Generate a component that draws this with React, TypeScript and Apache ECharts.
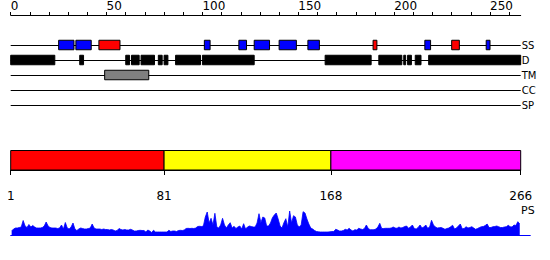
import React, { useEffect, useRef } from "react";
import * as echarts from "echarts";

const SEQ_LENGTH = 266;
const PS_AXIS_MAX = 271;
const trackNames = ["SS", "D", "TM", "CC", "SP"];
const topTickValues = [0, 10, 20, 30, 40, 50, 60, 70, 80, 90, 100, 110, 120, 130, 140, 150, 160, 170, 180, 190, 200, 210, 220, 230, 240, 250, 260];
const topLabelValues = [0, 50, 100, 150, 200, 250];

// secondary structure segments [startResidue, endResidue]
const ssBlueSegments = [[26, 33], [35, 42], [102, 104], [120, 123], [128, 135], [141, 149], [156, 161], [217, 219], [249, 250]];
const ssRedSegments = [[47, 57], [190, 191], [231, 234]];
const disorderSegments = [[1, 23], [37, 38], [61, 62], [64, 67], [69, 75], [78, 79], [81, 82], [87, 99], [101, 127], [165, 188], [193, 204], [206, 206], [208, 209], [212, 214], [219, 266]];
const tmSegments = [[50, 72]];

const domainStarts = [1, 81, 168];
const domainEnds = [80, 167, 266];

const psScores = [
  4, 6, 7, 7, 7.5, 8, 14.5, 9, 7.5, 10.5,
  8, 9.5, 8, 7, 7, 7, 7.5, 9, 13, 9,
  7.5, 7, 7, 7, 6.5, 7, 10, 6, 12.5, 7,
  6, 8, 12, 6, 4.5, 6, 7, 6.5, 6, 6,
  6.5, 7, 11, 7, 6, 6, 6, 5.5, 6, 5.5,
  5.5, 5, 5.5, 5, 4, 4.5, 6.5, 5.5, 5, 5.5,
  5, 5, 5.7, 5, 4, 4, 4.5, 4.7, 4.5, 4.5,
  3, 5, 4, 2.5, 4.7, 3, 3, 3, 3, 3,
  3, 3, 4.7, 3.5, 4, 4, 3.5, 4.5, 4.7, 4.5,
  5, 6.5, 6.7, 6.5, 6.7, 6.5, 7, 8.5, 8.7, 8.5,
  9, 18, 23, 12, 16.7, 10, 21.7, 8, 7, 10,
  16.7, 10, 7, 10, 12.3, 7, 8.7, 6.5, 8, 9,
  6, 11.3, 6, 8, 9, 8.5, 8, 8, 12, 21.3,
  12.3, 18, 17, 9, 9, 12, 17.3, 20, 22, 16,
  9, 7, 12.3, 16.3, 8, 24, 12, 19.3, 18, 10,
  8, 10, 23.3, 22, 16, 11, 7, 6, 4.5, 3.5,
  3.2, 3, 3, 3, 3, 3, 3.2, 3.5, 3.5, 5.7,
  5, 4, 4, 4.5, 5.7, 5, 6.7, 5, 4, 5.3,
  5, 6.7, 6, 5.5, 6.5, 10, 6.5, 5.3, 5.3, 5.3,
  6, 8, 11.7, 6.5, 6.5, 6.7, 6.7, 6.7, 7, 8,
  7, 6.7, 8, 7, 7.5, 8.5, 9, 6.7, 8, 10,
  6.5, 6, 7.5, 10, 7, 8, 10, 6.7, 8, 14.7,
  10, 8, 7, 7.3, 7.5, 6.7, 5.7, 6.5, 7, 8.3,
  9.7, 6, 7, 9, 11, 6.3, 6.5, 8.3, 7, 7.5,
  8.3, 7, 5.7, 6.5, 7.5, 8.3, 8.5, 9.5, 11, 7.5,
  7.5, 8.3, 8.5, 9, 8.3, 7.5, 7.5, 8, 8.3, 9.7,
  8.3, 8, 10, 9.5, 13.3, 11,
];

const FONT = "DejaVu Sans";
const domainColors = ["#ff0000", "#ffff00", "#ff00ff"];

function segmentSeries(name: string, segments: number[][], track: string, fill: string) {
  const t = trackNames.indexOf(track);
  return {
    type: "custom",
    name,
    xAxisIndex: 0,
    yAxisIndex: 0,
    encode: { x: [0, 1], y: 2 },
    data: segments.map(([s, e]) => [s, e, t]),
    renderItem: (params: any, api: any) => {
      const s = api.value(0);
      const e = api.value(1);
      const tr = api.value(2);
      const p0 = api.coord([s - 1, tr]);
      const p1 = api.coord([e, tr]);
      const h = 9.5;
      return {
        type: "rect",
        shape: { x: p0[0], y: p0[1] - h / 2, width: p1[0] - p0[0], height: h },
        style: { fill, stroke: "#000", lineWidth: 1 },
      };
    },
    z: 5,
  };
}

export default function App() {
  const ref = useRef<HTMLDivElement>(null);
  useEffect(() => {
    if (!ref.current) return;
    const chart = echarts.init(ref.current, undefined, { renderer: "svg" });
    const lastEnd = domainEnds[domainEnds.length - 1];
    const bottomTicks = [...domainStarts.map((s) => s - 1), lastEnd];
    const option: any = {
      animation: false,
      textStyle: { fontFamily: FONT },
      grid: [
        { left: 10.7, top: 45, width: 510, height: 60 },
        { left: 10.7, top: 150, width: 510, height: 20 },
        { left: 10.7, top: 210, width: (510 * PS_AXIS_MAX) / SEQ_LENGTH, height: 25 },
      ],
      xAxis: [
        {
          gridIndex: 0,
          type: "value",
          min: 0,
          max: SEQ_LENGTH,
          position: "top",
          offset: 30,
          axisLine: { show: true, lineStyle: { color: "#000", width: 1 } },
          axisTick: { show: true, customValues: topTickValues, length: 3, lineStyle: { color: "#000" } },
          axisLabel: {
            customValues: topLabelValues,
            align: "left",
            margin: 3,
            fontSize: 12,
            color: "#000",
            fontFamily: FONT,
          },
          splitLine: { show: false },
        },
        {
          gridIndex: 1,
          type: "value",
          min: 0,
          max: SEQ_LENGTH,
          position: "bottom",
          offset: 10,
          axisLine: { show: true, lineStyle: { color: "#000", width: 1 } },
          axisTick: { show: true, customValues: bottomTicks, length: 5, lineStyle: { color: "#000" } },
          axisLabel: {
            customValues: bottomTicks,
            margin: 10,
            fontSize: 12,
            color: "#000",
            fontFamily: FONT,
            formatter: (v: number) => (v === lastEnd ? String(lastEnd) : String(Math.round(v) + 1)),
          },
          splitLine: { show: false },
        },
        {
          gridIndex: 2,
          type: "value",
          min: 0,
          max: PS_AXIS_MAX,
          position: "bottom",
          axisLine: { show: true, lineStyle: { color: "#0000ff", width: 1 } },
          axisTick: { show: false },
          axisLabel: { show: false },
          splitLine: { show: false },
        },
      ],
      yAxis: [
        {
          gridIndex: 0,
          type: "category",
          data: trackNames,
          inverse: true,
          boundaryGap: false,
          position: "right",
          axisLine: { show: false },
          axisTick: { show: false },
          axisLabel: { margin: 1, fontSize: 10, color: "#000", fontFamily: FONT, interval: 0 },
          splitLine: { show: true, interval: 0, lineStyle: { color: "#000", width: 1 } },
        },
        { gridIndex: 1, type: "value", min: 0, max: 1, show: false },
        { gridIndex: 2, type: "value", min: 0, max: 25, show: false },
      ],
      graphic: [
        {
          type: "text",
          left: 521,
          top: 205,
          style: { text: "PS", fontSize: 11, fill: "#000", fontFamily: FONT },
        },
      ],
      series: [
        segmentSeries("SS blue", ssBlueSegments, "SS", "#0000ff"),
        segmentSeries("SS red", ssRedSegments, "SS", "#ff0000"),
        segmentSeries("D", disorderSegments, "D", "#000000"),
        segmentSeries("TM", tmSegments, "TM", "#808080"),
        {
          type: "custom",
          name: "domains",
          xAxisIndex: 1,
          yAxisIndex: 1,
          encode: { x: [0, 1], y: 2 },
          data: domainStarts.map((s, i) => [s, domainEnds[i], 0, i]),
          renderItem: (params: any, api: any) => {
            const s = api.value(0);
            const e = api.value(1);
            const idx = api.value(3);
            const p0 = api.coord([s - 1, 1]);
            const p1 = api.coord([e, 0]);
            return {
              type: "rect",
              shape: { x: p0[0], y: p0[1] + 0.5, width: p1[0] - p0[0], height: p1[1] - p0[1] - 0.5 },
              style: { fill: domainColors[idx], stroke: "#000", lineWidth: 1 },
            };
          },
        },
        {
          type: "line",
          name: "PS",
          xAxisIndex: 2,
          yAxisIndex: 2,
          data: psScores.map((v, i) => [i + 0.5, v]),
          showSymbol: false,
          symbol: "none",
          lineStyle: { color: "#0000ff", width: 0.8 },
          areaStyle: { color: "#0000ff", opacity: 1 },
        },
      ],
    };
    chart.setOption(option);
    return () => chart.dispose();
  }, []);
  return (
    <div
      ref={ref}
      style={{ position: "absolute", left: 0, top: 0, width: 550, height: 260, background: "#fff" }}
    />
  );
}
